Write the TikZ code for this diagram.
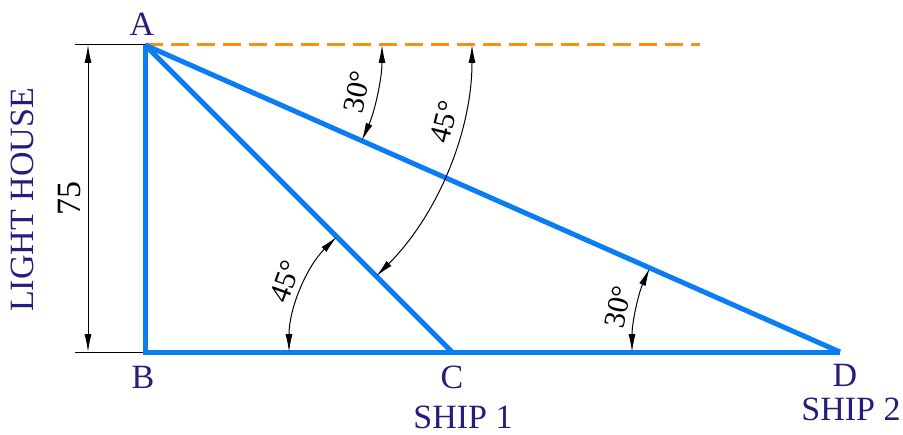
\documentclass[tikz,border=0pt]{standalone}
\usepackage{fontspec}
\setmainfont{Liberation Serif}
\usetikzlibrary{arrows.meta, calc}
\definecolor{lhblue}{RGB}{10,125,245}
\definecolor{lhnavy}{RGB}{35,30,125}
\definecolor{lhorange}{RGB}{255,140,10}

\begin{document}
\begin{tikzpicture}[x=0.5pt, y=0.5pt,
    sight/.style={draw=lhblue, line width=2.5pt},
    lbl/.style={text=lhnavy, font=\fontsize{17}{20}\selectfont, inner sep=0pt},
    ang/.style={font=\fontsize{15}{18}\selectfont, inner sep=0pt},
    dimline/.style={line width=0.5pt,
                    {Latex[length=9pt,width=3.5pt]}-{Latex[length=9pt,width=3.5pt]}}]
  \useasboundingbox (0,0) rectangle (903,434);

  \coordinate (A) at (145,389);
  \coordinate (B) at (145,82);
  \coordinate (C) at (452,82);
  \coordinate (D) at (840,82);
  \coordinate (horiz) at (700,389);
  \coordinate (dimtop) at (75,389);
  \coordinate (dimbot) at (75,82);

  \draw[lhorange, line width=1.5pt, dash pattern=on 9pt off 4pt] (A) -- (horiz);
  \draw[line width=0.5pt] (dimtop) -- (A);
  \draw[line width=0.5pt] (dimbot) -- (B);
  \draw[dimline] ($(dimtop)+(13,0)$) -- ($(dimbot)+(13,0)$);

  \draw[sight, line join=miter] (A) -- (B) -- (D);
  \draw[sight] (A) -- (C);
  \draw[sight] (A) -- (D);

  % angle arcs
  \draw[dimline] ($(A)+(0:237)$) arc[start angle=0, end angle=-23.8, radius=118.5pt];
  \draw[dimline] ($(A)+(0:327)$) arc[start angle=0, end angle=-45, radius=163.5pt];
  \draw[dimline] ($(C)+(180:163)$) arc[start angle=180, end angle=135, radius=81.5pt];
  \draw[dimline] ($(D)+(180:208)$) arc[start angle=180, end angle=156.2, radius=104pt];

  \node[ang, rotate=78] (a30top) at ($(A)+(-12.5:217)$) {30°};
  \node[ang, rotate=76] (a45top) at ($(A)+(-14.4:309)$) {45°};
  \node[ang, rotate=70] (a45c) at ($(C)+(157:181)$) {45°};
  \node[ang, rotate=78] (a30d) at ($(D)+(168.5:226)$) {30°};

  \node[lbl] (labA) at (142,410) {A};
  \node[lbl] (labB) at (143,57) {B};
  \node[lbl] (labC) at (452,57) {C};
  \node[lbl] (labD) at (845,59) {D};
  \node[lbl] (ship1) at (463,17) {SHIP 1};
  \node[lbl] (ship2) at (851,25) {SHIP 2};
  \node[lbl, rotate=90] (house) at (22,234) {LIGHT HOUSE};
  \node[ang, font=\fontsize{17}{20}\selectfont, rotate=90] (height) at (70,236) {75};
\end{tikzpicture}
\end{document}
